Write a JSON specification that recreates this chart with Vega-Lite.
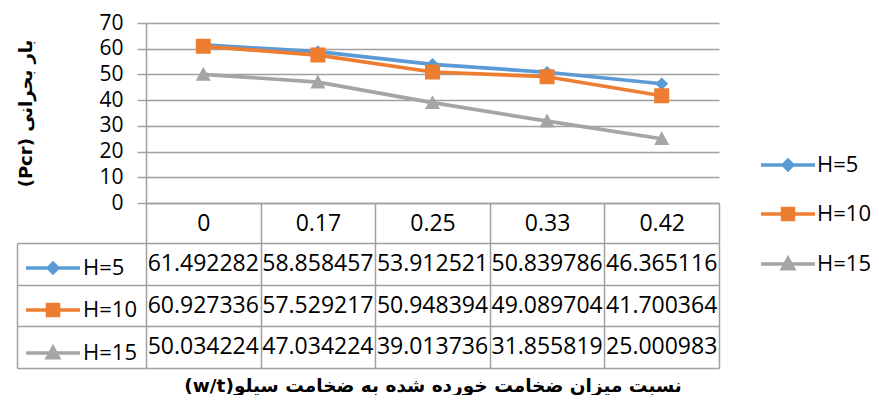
{
  "$schema": "https://vega.github.io/schema/vega-lite/v6.json",
  "background": "white",
  "padding": {"left": 16, "top": 12, "right": 0, "bottom": 0},
  "config": {
    "font": "Open Sans",
    "view": {"stroke": null},
    "axis": {
      "domainColor": "#a0a0a0", "tickColor": "#a0a0a0", "gridColor": "#a0a0a0",
      "domainWidth": 1.5, "tickWidth": 1.5, "gridWidth": 1.5,
      "labelColor": "#000000", "titleColor": "#000000", "labelFont": "Open Sans"
    },
    "legend": {"labelFont": "Open Sans", "labelColor": "#000000"}
  },
  "data": {
    "values": [
      {"h": "H=5", "w": "0", "pcr": 61.492282},
      {"h": "H=5", "w": "0.17", "pcr": 58.858457},
      {"h": "H=5", "w": "0.25", "pcr": 53.912521},
      {"h": "H=5", "w": "0.33", "pcr": 50.839786},
      {"h": "H=5", "w": "0.42", "pcr": 46.365116},
      {"h": "H=10", "w": "0", "pcr": 60.927336},
      {"h": "H=10", "w": "0.17", "pcr": 57.529217},
      {"h": "H=10", "w": "0.25", "pcr": 50.948394},
      {"h": "H=10", "w": "0.33", "pcr": 49.089704},
      {"h": "H=10", "w": "0.42", "pcr": 41.700364},
      {"h": "H=15", "w": "0", "pcr": 50.034224},
      {"h": "H=15", "w": "0.17", "pcr": 47.034224},
      {"h": "H=15", "w": "0.25", "pcr": 39.013736},
      {"h": "H=15", "w": "0.33", "pcr": 31.855819},
      {"h": "H=15", "w": "0.42", "pcr": 25.000983}
    ]
  },
  "bounds": "flush",
  "spacing": 40,
  "resolve": {
    "scale": {"x": "independent", "y": "independent", "fill": "independent", "stroke": "independent", "shape": "independent"},
    "legend": {"fill": "independent", "stroke": "independent", "shape": "independent"}
  },
  "vconcat": [
    {
      "width": 573,
      "height": 180,
      "encoding": {
        "x": {
          "field": "w", "type": "ordinal", "bandPosition": 0.5,
          "scale": {"type": "band", "domain": ["0", "0.17", "0.25", "0.33", "0.42"], "paddingInner": 0, "paddingOuter": 0},
          "axis": {"orient": "bottom", "title": null, "grid": false, "tickBand": "extent", "tickSize": 40, "labelPadding": -20, "labelBaseline": "middle", "labelFontSize": 23, "labelAngle": 0}
        },
        "y": {
          "field": "pcr", "type": "quantitative",
          "scale": {"domain": [0, 70]},
          "axis": {
            "values": [0, 10, 20, 30, 40, 50, 60, 70], "tickCount": 8, "labelOverlap": false,
            "grid": true, "domain": true, "ticks": true, "tickSize": 9,
            "labelPadding": 14, "labelFontSize": 21,
            "title": "\u202Bبار بحرانی (Pcr)\u202C",
            "titleFont": "DejaVu Sans", "titleFontSize": 18, "titleFontWeight": "bold", "titlePadding": 63
          }
        }
      },
      "layer": [
        {
          "mark": {"type": "line", "strokeWidth": 3.7},
          "encoding": {
            "stroke": {
              "field": "h", "type": "nominal",
              "scale": {"domain": ["H=5", "H=10", "H=15"], "range": ["#5B9BD5", "#ED7D31", "#A5A5A5"]},
              "legend": {"title": null, "orient": "none", "legendX": 613, "legendY": 113, "symbolSize": 2916, "symbolStrokeWidth": 3.7, "labelFontSize": 22, "labelOffset": 0, "rowPadding": 8}
            }
          }
        },
        {
          "mark": {"type": "point", "filled": true, "size": 5625, "opacity": 1},
          "encoding": {
            "fill": {
              "field": "h", "type": "nominal",
              "scale": {"domain": ["H=5", "H=10", "H=15"], "range": ["#5B9BD5", "#ED7D31", "#A5A5A5"]},
              "legend": {"title": null, "orient": "none", "legendX": 613, "legendY": 113, "symbolSize": 2916, "symbolStrokeWidth": 3.7, "labelFontSize": 22, "labelOffset": 0, "rowPadding": 8}
            },
            "shape": {
              "field": "h", "type": "nominal",
              "scale": {"domain": ["H=5", "H=10", "H=15"], "range": ["M-1,0H1M0,-0.17L0.17,0L0,0.17L-0.17,0Z", "M-1,0H1M-0.2,-0.2H0.2V0.2H-0.2Z", "M-1,0H1M0,-0.2L0.2,0.17H-0.2Z"]},
              "legend": {"title": null, "orient": "none", "legendX": 613, "legendY": 113, "symbolSize": 2916, "symbolStrokeWidth": 3.7, "labelFontSize": 22, "labelOffset": 0, "rowPadding": 8}
            }
          }
        }
      ]
    },
    {
      "width": 573,
      "height": 125,
      "layer": [
        {
          "mark": {"type": "text", "fontSize": 23, "color": "#000000"},
          "encoding": {
            "x": {
              "field": "w", "type": "ordinal",
              "scale": {"type": "band", "domain": ["0", "0.17", "0.25", "0.33", "0.42"], "paddingInner": 0, "paddingOuter": 0},
              "axis": {"orient": "bottom", "grid": true, "tickBand": "extent", "ticks": false, "labels": false, "domain": false,
                "title": "\u202Bنسبت میزان ضخامت خورده شده به ضخامت سیلو(w/t)\u202C",
                "titleFont": "DejaVu Sans", "titleFontSize": 18.5, "titleFontWeight": "bold", "titlePadding": 8}
            },
            "y": {
              "field": "h", "type": "nominal",
              "scale": {"type": "band", "domain": ["H=5", "H=10", "H=15"], "paddingInner": 0, "paddingOuter": 0},
              "axis": {"grid": true, "tickBand": "extent", "ticks": true, "tickSize": -129, "offset": 129, "domain": true, "labels": false, "title": null}
            },
            "text": {"field": "pcr", "type": "quantitative", "format": ".6f"}
          }
        },
        {
          "transform": [{"filter": "false"}],
          "mark": {"type": "point", "filled": true, "opacity": 1},
          "encoding": {
            "fill": {
              "field": "h", "type": "nominal",
              "scale": {"domain": ["H=5", "H=10", "H=15"], "range": ["#5B9BD5", "#ED7D31", "#A5A5A5"]},
              "legend": {"title": null, "orient": "none", "legendX": -122, "legendY": -4, "symbolSize": 2916, "symbolStrokeWidth": 3.7, "symbolOpacity": 1, "labelFontSize": 22, "labelOffset": 1, "rowPadding": 1}
            },
            "stroke": {
              "field": "h", "type": "nominal",
              "scale": {"domain": ["H=5", "H=10", "H=15"], "range": ["#5B9BD5", "#ED7D31", "#A5A5A5"]},
              "legend": {"title": null, "orient": "none", "legendX": -122, "legendY": -4, "symbolSize": 2916, "symbolStrokeWidth": 3.7, "symbolOpacity": 1, "labelFontSize": 22, "labelOffset": 1, "rowPadding": 1}
            },
            "shape": {
              "field": "h", "type": "nominal",
              "scale": {"domain": ["H=5", "H=10", "H=15"], "range": ["M-1,0H1M0,-0.17L0.17,0L0,0.17L-0.17,0Z", "M-1,0H1M-0.2,-0.2H0.2V0.2H-0.2Z", "M-1,0H1M0,-0.2L0.2,0.17H-0.2Z"]},
              "legend": {"title": null, "orient": "none", "legendX": -122, "legendY": -4, "symbolSize": 2916, "symbolStrokeWidth": 3.7, "symbolOpacity": 1, "labelFontSize": 22, "labelOffset": 1, "rowPadding": 1}
            }
          }
        }
      ]
    }
  ]
}
